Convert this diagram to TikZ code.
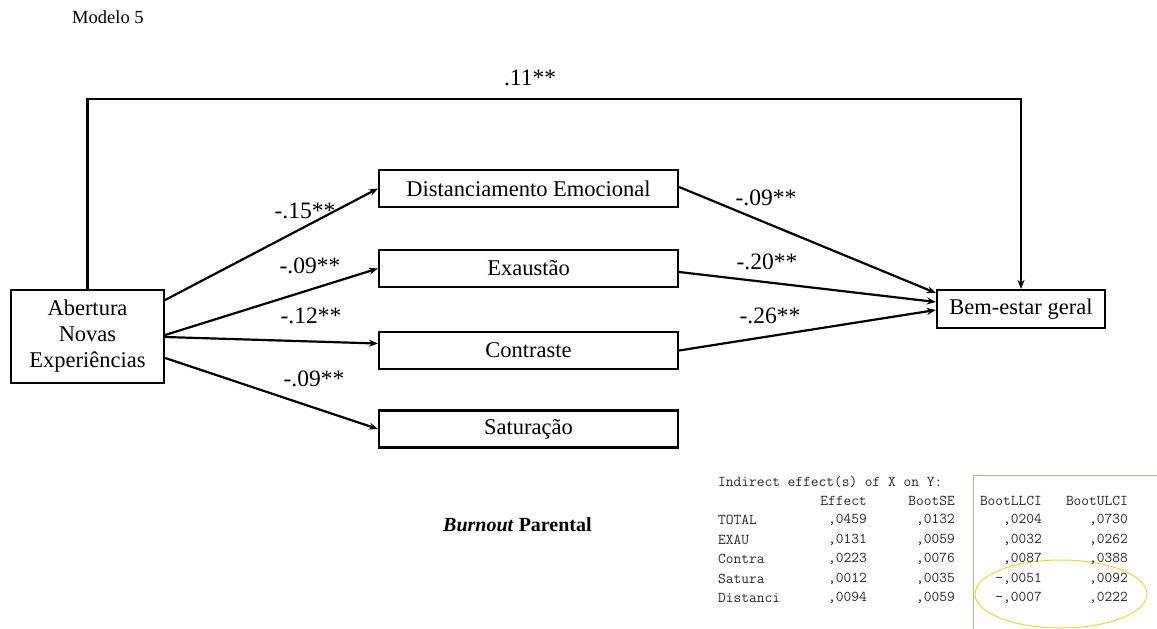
\documentclass[tikz,border=0pt]{standalone}
\usepackage{fontspec}
\setmainfont{Liberation Serif}
\usetikzlibrary{arrows.meta,calc}
\begin{document}
\begin{tikzpicture}[x=1pt,y=-1pt,
  box/.style={draw,line width=2.2pt,inner sep=0pt,font=\fontsize{22.5}{26}\selectfont,align=center},
  arr/.style={line width=2.2pt,-{Stealth[length=9pt,width=7pt]}},
  lab/.style={font=\fontsize{23.5}{26}\selectfont,inner sep=0pt},
  tab/.style={font=\ttfamily\fontsize{15}{17}\selectfont,text=black!85,inner sep=0pt},
  tabr/.style={tab,anchor=east},
  tabl/.style={tab,anchor=west}]
\useasboundingbox (0,0) rectangle (1157,629);
\node[anchor=west,font=\fontsize{18.5}{20}\selectfont,inner sep=0pt] (title) at (72,17) {Modelo 5};
% nodes
\node[box,minimum width=153pt,minimum height=93pt] (ab) at (87.5,336.5) {Abertura\\Novas\\Experiências};
\node[box,minimum width=168pt,minimum height=38pt] (bem) at (1021,309) {Bem-estar geral};
\node[box,minimum width=299pt,minimum height=37pt] (dist) at (528.5,188.5) {Distanciamento Emocional};
\node[box,minimum width=299pt,minimum height=37pt] (exa) at (528.5,268.5) {Exaustão};
\node[box,minimum width=299pt,minimum height=37pt] (con) at (528.5,350.5) {Contraste};
\node[box,minimum width=299pt,minimum height=37pt] (sat) at (528.5,429) {Saturação};
% top path
\coordinate (topL) at (87.5,99);
\coordinate (topR) at (1021,99);
\draw[arr] (ab.north) -- (topL) -- (topR) -- (bem.north);
% arrows from Abertura
\draw[arr] ([yshift=36.5pt]ab.east) -- (dist.west);
\draw[arr] ([yshift=1.5pt]ab.east) -- (exa.west);
\draw[arr] ([yshift=-0.5pt]ab.east) -- ([yshift=7pt]con.west);
\draw[arr] ([yshift=-21.5pt]ab.east) -- (sat.west);
% arrows to Bem-estar
\draw[arr] ([yshift=1.5pt]dist.east) -- ([yshift=16pt]bem.west);
\draw[arr] ([yshift=-3.5pt]exa.east) -- ([yshift=7pt]bem.west);
\draw[arr] (con.east) -- ([yshift=-1pt]bem.west);
% labels
\node[lab] (l0) at (530,78) {.11**};
\node[lab] (l1) at (305,211) {-.15**};
\node[lab] (l2) at (310,266) {-.09**};
\node[lab] (l3) at (311,316) {-.12**};
\node[lab] (l4) at (314,379) {-.09**};
\node[lab] (l5) at (766,198) {-.09**};
\node[lab] (l6) at (767,262) {-.20**};
\node[lab] (l7) at (770,316) {-.26**};
\node[anchor=west,inner sep=0pt,font=\bfseries\fontsize{20}{24}\selectfont] (bp) at (443,525) {\textit{Burnout} Parental};
% table
\draw[draw=olive!45!gray!60,line width=1pt] (973,629) -- (973,475) -- (1157,475);
\draw[draw=yellow!70!olive!80,line width=1pt] (1061,594) ellipse [x radius=86pt,y radius=34pt];
\node[tabl] (hd) at (718,482) {Indirect effect(s) of X on Y:};
\node[tabr] (c1) at (867,501) {Effect};
\node[tabr] (c2) at (955,501) {BootSE};
\node[tabr] (c3) at (1042,501) {BootLLCI};
\node[tabr] (c4) at (1128,501) {BootULCI};
\newcommand{\tabrow}[6]{%
  \node[tabl] at (718,#6) {#1};
  \node[tabr] at (867,#6) {#2};
  \node[tabr] at (955,#6) {#3};
  \node[tabr] at (1042,#6) {#4};
  \node[tabr] at (1128,#6) {#5};}
\tabrow{TOTAL}{,0459}{,0132}{,0204}{,0730}{520}
\tabrow{EXAU}{,0131}{,0059}{,0032}{,0262}{539.5}
\tabrow{Contra}{,0223}{,0076}{,0087}{,0388}{559}
\tabrow{Satura}{,0012}{,0035}{-,0051}{,0092}{578.5}
\tabrow{Distanci}{,0094}{,0059}{-,0007}{,0222}{598}
\end{tikzpicture}
\end{document}
